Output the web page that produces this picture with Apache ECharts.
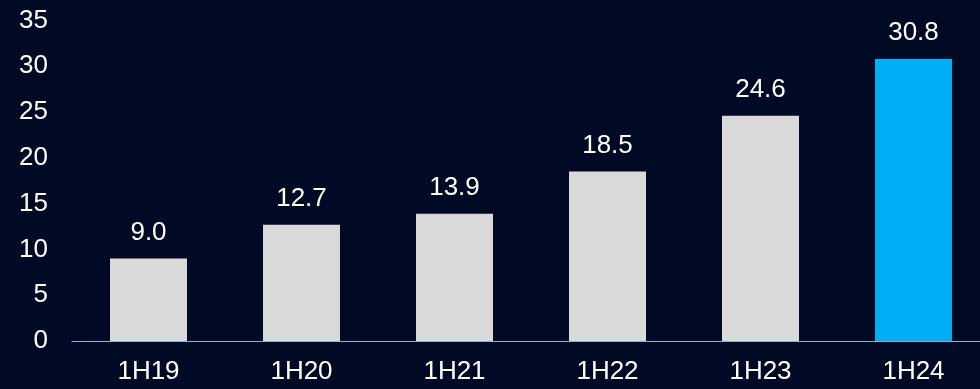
<!DOCTYPE html>
<html>
<head>
<meta charset="utf-8">
<style>
html,body{margin:0;padding:0;background:#000a24;overflow:hidden;width:980px;height:389px;}
#c{width:990px;height:389px;}
</style>
<script src="https://cdn.jsdelivr.net/npm/echarts@6/dist/echarts.min.js"></script>
</head>
<body>
<div id="c"></div>
<script>
const categories = ['1H19','1H20','1H21','1H22','1H23','1H24'];
const values = [9.0, 12.7, 13.9, 18.5, 24.6, 30.8];
const yTicks = [0, 5, 10, 15, 20, 25, 30, 35];

const chart = echarts.init(document.getElementById('c'));
chart.setOption({
  backgroundColor: '#000a24',
  animation: false,
  grid: { left: 72, top: 20.5, right: 0, height: 320.5, containLabel: false },
  xAxis: {
    type: 'category',
    data: categories,
    axisLine: { lineStyle: { color: '#7fb3dc', width: 1 } },
    axisTick: { show: false },
    axisLabel: { color: '#ffffff', fontSize: 26, fontFamily: 'Liberation Sans, Arial', margin: 18 }
  },
  yAxis: {
    type: 'value',
    min: yTicks[0],
    max: yTicks[yTicks.length - 1],
    interval: 5,
    splitLine: { show: false },
    axisLine: { show: false },
    axisTick: { show: false },
    axisLabel: { color: '#ffffff', fontSize: 26, fontFamily: 'Liberation Sans, Arial', margin: 24 }
  },
  series: [{
    type: 'bar',
    barWidth: 77,
    data: values.map((v, i) => ({
      value: v,
      itemStyle: { color: i === values.length - 1 ? '#00aef5' : '#d9d9d9' }
    })),
    label: {
      show: true,
      position: 'top',
      distance: 13,
      color: '#ffffff',
      fontSize: 26,
      fontFamily: 'Liberation Sans, Arial',
      formatter: p => p.value.toFixed(1)
    }
  }]
});
</script>
</body>
</html>
